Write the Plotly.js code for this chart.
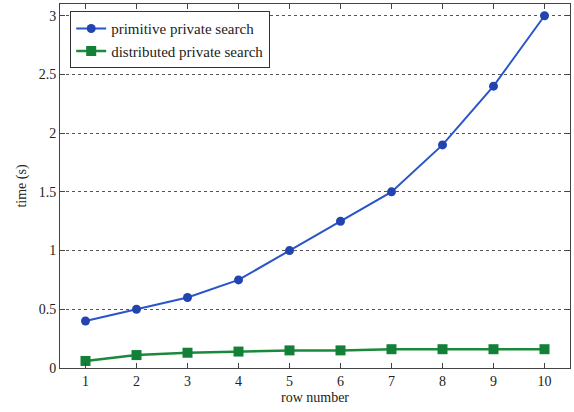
<!DOCTYPE html>
<html><head><meta charset="utf-8">
<script src="https://cdn.plot.ly/plotly-3.0.1.min.js"></script>
<style>html,body{margin:0;padding:0;background:#fff}</style>
</head><body>
<div id="chart" style="width:574px;height:412px"></div>
<script>
const rows = [1,2,3,4,5,6,7,8,9,10];
const primitive = [0.40,0.50,0.60,0.75,1.00,1.25,1.50,1.90,2.40,3.00];
const distributed = [0.06,0.11,0.13,0.14,0.15,0.15,0.16,0.16,0.16,0.16];
const seriesNames = ["primitive private search","distributed private search"];

const traces = [
  {x: rows, y: primitive, name: seriesNames[0], mode: "lines+markers",
   line: {color: "#2a55c8", width: 2}, marker: {symbol: "circle", size: 9, color: "#2244b0"}},
  {x: rows, y: distributed, name: seriesNames[1], mode: "lines+markers",
   line: {color: "#1a8a3a", width: 2.5}, marker: {symbol: "square", size: 10, color: "#128036"}}
];
const fam = "Liberation Serif";
const font = {family: fam, size: 14, color: "#222"};
const layout = {
  width: 574, height: 412,
  margin: {l: 60, r: 4, t: 4, b: 44},
  paper_bgcolor: "#fff", plot_bgcolor: "#fff",
  font: font,
  showlegend: true,
  legend: {x: 0.02, y: 0.98, xanchor: "left", yanchor: "top",
    bordercolor: "#333", borderwidth: 1, bgcolor: "#fff",
    font: {family: fam, size: 15, color: "#222"}, tracegroupgap: 0},
  xaxis: {range: [0.5, 10.5], tickvals: rows, ticks: "inside", ticklen: 5,
    showgrid: false, zeroline: false, showline: true, linecolor: "#444", mirror: "ticks",
    tickfont: {family: fam, size: 14},
    title: {text: "row number", font: {family: fam, size: 14}, standoff: 4}},
  yaxis: {range: [0, 3.1], tickvals: [0,0.5,1,1.5,2,2.5,3], ticktext: ["0","0.5","1","1.5","2","2.5","3"],
    ticks: "inside", ticklen: 5, showgrid: true, gridcolor: "#555", griddash: "dot", gridwidth: 1,
    tickfont: {family: fam, size: 14},
    zeroline: false, showline: true, linecolor: "#444", mirror: "ticks",
    title: {text: "time (s)", font: {family: fam, size: 14}, standoff: 8}}
};
Plotly.newPlot("chart", traces, layout, {displayModeBar: false});
</script>
</body></html>
